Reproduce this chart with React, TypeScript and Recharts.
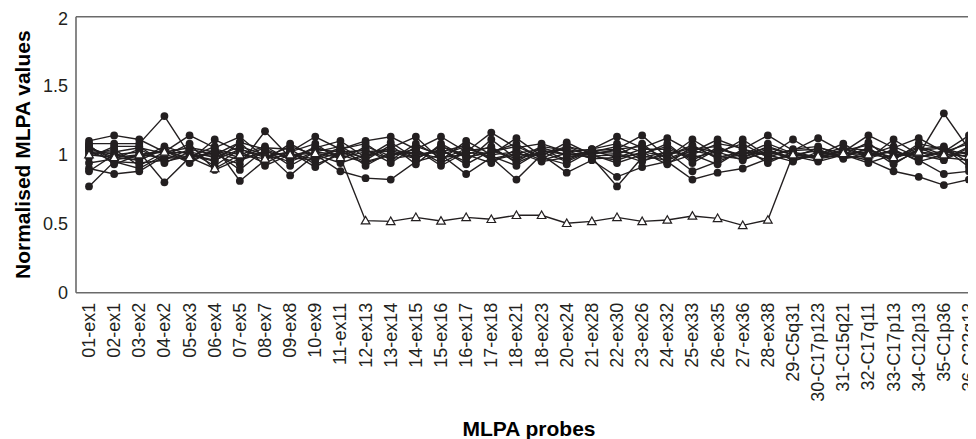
import React from 'react';
import { LineChart, Line, XAxis, YAxis, ReferenceLine } from 'recharts';

const probes = [
  '01-ex1', '02-ex1', '03-ex2', '04-ex2', '05-ex3', '06-ex4', '07-ex5', '08-ex7', '09-ex8', '10-ex9',
  '11-ex11', '12-ex13', '13-ex14', '14-ex15', '15-ex16', '16-ex17', '17-ex18', '18-ex21', '18-ex23', '20-ex24',
  '21-ex28', '22-ex30', '23-ex26', '24-ex32', '25-ex33', '26-ex35', '27-ex36', '28-ex38', '29-C5q31', '30-C17p123',
  '31-C15q21', '32-C17q11', '33-C17p13', '34-C12p13', '35-C1p36', '36-C22q13',
];

const yTicks = [0, 0.5, 1, 1.5, 2];

const sample01 = [1.10,1.14,1.11,1.02,1.14,1.05,1.13,0.98,1.02,1.13,1.04,1.10,1.13,1.04,1.13,1.02,1.16,1.05,1.08,1.02,1.04,1.13,1.05,1.12,1.02,1.11,1.04,1.14,1.03,1.12,1.02,1.14,1.05,1.12,1.02,1.14];
const sample02 = [1.08,1.08,1.08,1.28,1.00,0.95,1.09,1.04,0.97,1.05,1.10,0.98,1.05,1.13,0.96,1.10,1.00,1.12,0.99,1.09,1.00,1.04,1.14,0.98,1.11,1.00,1.11,0.99,1.11,1.00,1.08,0.97,1.11,1.00,1.30,1.04];
const sample03 = [0.77,0.95,0.94,0.96,1.04,1.00,0.93,1.17,0.98,0.96,1.02,1.03,0.97,1.00,1.03,0.95,1.11,0.97,1.02,0.95,1.03,0.98,1.01,1.06,0.96,1.05,0.98,1.06,1.00,1.03,0.99,1.04,0.97,1.05,0.98,0.96];
const sample04 = [0.90,0.86,0.88,0.99,1.08,0.89,0.97,1.02,0.85,1.00,0.88,0.83,0.82,0.95,1.00,0.86,0.98,0.82,1.00,0.87,0.96,0.84,0.91,0.95,0.82,0.87,0.90,0.97,0.99,0.95,1.00,0.96,0.88,0.84,0.78,0.82];
const sample05 = [0.88,1.00,1.02,0.80,0.98,1.06,0.81,0.96,1.08,0.98,1.05,0.92,1.02,0.97,1.06,1.00,0.94,1.04,0.96,1.01,0.98,0.77,0.98,1.02,0.88,0.95,1.02,1.00,0.95,1.02,0.98,0.99,1.03,0.96,0.86,0.88];
const sample06 = [1.05,0.98,0.96,1.04,0.96,1.11,1.02,0.94,1.02,1.08,0.96,1.06,0.99,1.04,0.94,1.03,1.05,0.95,1.05,1.00,1.02,1.06,0.96,1.00,1.05,1.02,0.96,1.03,0.98,1.05,1.01,1.02,0.96,1.08,1.04,1.00];
const sample07 = [1.02,1.02,1.05,1.01,1.02,0.98,1.06,1.00,0.95,1.02,1.06,0.96,1.07,0.93,1.08,0.98,1.02,1.08,0.97,1.06,0.99,1.00,1.08,0.94,1.00,1.08,1.05,0.94,1.02,0.98,1.03,1.07,1.00,1.02,0.97,1.06];
const sample08 = [1.06,0.96,1.00,0.98,0.97,1.03,0.98,1.05,1.04,0.93,1.00,1.04,0.94,1.06,1.00,1.06,0.97,1.01,1.04,0.96,1.04,1.08,1.02,0.99,1.07,0.97,1.00,1.05,1.00,0.97,1.04,1.00,1.06,0.98,1.02,1.08];
const sample09 = [1.04,1.00,0.97,1.06,1.00,0.96,1.04,0.98,1.06,1.00,0.94,1.00,1.03,0.98,1.04,0.93,1.03,0.97,1.06,1.03,0.97,0.98,1.04,1.04,0.98,1.02,1.08,0.98,1.04,1.06,0.98,1.05,0.93,1.04,1.06,0.94];
const sample10 = [1.00,1.04,0.92,1.02,1.05,1.02,0.96,1.02,0.99,1.04,1.02,0.95,1.00,1.02,0.97,1.04,1.00,1.02,0.95,0.98,1.01,1.03,0.99,0.96,1.03,0.99,0.97,1.02,0.97,1.00,1.02,0.97,1.04,0.95,1.00,1.02];
const sample11 = [0.94,0.97,1.04,0.95,0.99,1.00,1.09,0.92,1.00,0.97,1.04,1.08,0.96,1.08,0.98,1.00,1.06,0.94,1.02,1.04,1.00,0.94,1.00,1.08,0.94,1.04,1.00,1.08,1.01,0.97,1.00,0.94,1.00,1.00,0.96,1.05];
const sample12 = [1.07,0.93,1.00,1.03,0.94,1.04,1.00,1.06,0.96,1.06,0.98,1.02,1.04,1.00,1.02,1.07,0.96,1.00,1.00,1.06,1.02,1.01,0.95,1.02,1.00,0.93,1.04,1.00,1.03,1.04,0.97,1.00,1.02,0.98,1.03,0.98];
const sample13 = [0.98,1.06,1.06,0.94,1.02,0.92,1.04,0.99,1.02,0.91,1.02,0.98,1.09,0.97,1.06,0.98,1.02,1.06,0.98,0.93,1.03,1.04,1.06,0.97,1.04,1.06,0.98,1.04,0.96,1.00,1.05,1.03,0.98,1.06,1.00,1.10];
const sample14 = [1.03,0.95,0.90,1.00,0.96,1.02,0.89,1.04,0.92,1.02,1.00,0.94,1.00,1.04,0.92,1.02,0.99,0.92,1.03,1.00,0.99,0.96,1.02,0.93,1.06,0.98,1.02,0.96,1.00,0.98,1.00,1.09,0.94,1.03,1.05,0.91];
const deletion = [1.00,0.98,1.00,1.02,0.98,0.90,1.00,0.97,1.00,1.01,0.98,0.522,0.517,0.546,0.52,0.546,0.532,0.561,0.561,0.503,0.517,0.546,0.517,0.527,0.556,0.539,0.488,0.527,1.00,0.99,1.01,1.00,0.98,1.02,1.00,0.99];

const normalSeries = [sample01, sample02, sample03, sample04, sample05, sample06, sample07, sample08, sample09, sample10, sample11, sample12, sample13, sample14];

const data = probes.map((probe, i) => {
  const row: Record<string, number | string> = { probe, deletion: deletion[i] };
  normalSeries.forEach((s, k) => {
    row['s' + k] = s[i];
  });
  return row;
});

const INK = '#231f20';
const AXIS = '#6a6a6a';
const FONT = '"Liberation Sans", Arial, sans-serif';

const XTick = (props: any) => {
  const { x, y, payload } = props;
  return (
    <g transform={`translate(${x},${y})`}>
      <text
        transform="rotate(-90)"
        x={-10}
        y={0}
        dy="0.33em"
        textAnchor="end"
        fontSize={18}
        fontFamily={FONT}
        fill={INK}
      >
        {payload.value}
      </text>
    </g>
  );
};

const Triangle = (props: any) => {
  const { cx, cy, index } = props;
  if (cx == null || cy == null) return <g key={'t' + index} />;
  const s = 4.3;
  const pts = `${cx},${cy - s} ${cx - s},${cy + s * 0.75} ${cx + s},${cy + s * 0.75}`;
  return <polygon key={'t' + index} points={pts} fill="#ffffff" stroke={INK} strokeWidth={1.2} />;
};

export default function App() {
  return (
    <div style={{ width: 968, height: 431, overflow: 'hidden' }}>
      <LineChart
        width={980}
        height={431}
        data={data}
        margin={{ top: 8.7, right: 6, bottom: 0, left: 0 }}
      >
        <XAxis
          dataKey="probe"
          scale="point"
          interval={0}
          padding={{ left: 13, right: 13 }}
          height={146.3}
          tick={<XTick />}
          tickLine={false}
          tickSize={0}
          tickMargin={0}
          axisLine={{ stroke: AXIS, strokeWidth: 1.6 }}
          label={{ value: 'MLPA probes', position: 'insideBottom', offset: 3, fontSize: 21, fontWeight: 'bold', fontFamily: FONT, fill: '#000' }}
        />
        <YAxis
          domain={[0, 2]}
          ticks={yTicks}
          width={68}
          tickLine={false}
          tick={{ fontSize: 18, fontFamily: FONT, fill: INK }}
          axisLine={{ stroke: AXIS, strokeWidth: 1.6 }}
          label={{ value: 'Normalised MLPA values', angle: -90, position: 'center', dx: -19, fontSize: 21, fontWeight: 'bold', fontFamily: FONT, fill: '#000' }}
        />
        <ReferenceLine y={2} stroke={AXIS} strokeWidth={1.6} />
        {normalSeries.map((_, k) => (
          <Line
            key={'s' + k}
            dataKey={'s' + k}
            type="linear"
            stroke={INK}
            strokeWidth={1.4}
            dot={{ r: 3.9, fill: INK, stroke: INK, strokeWidth: 0 }}
            isAnimationActive={false}
          />
        ))}
        <Line
          dataKey="deletion"
          type="linear"
          stroke={INK}
          strokeWidth={1.4}
          dot={(p: any) => <Triangle {...p} key={'tri' + p.index} />}
          isAnimationActive={false}
        />
      </LineChart>
    </div>
  );
}
